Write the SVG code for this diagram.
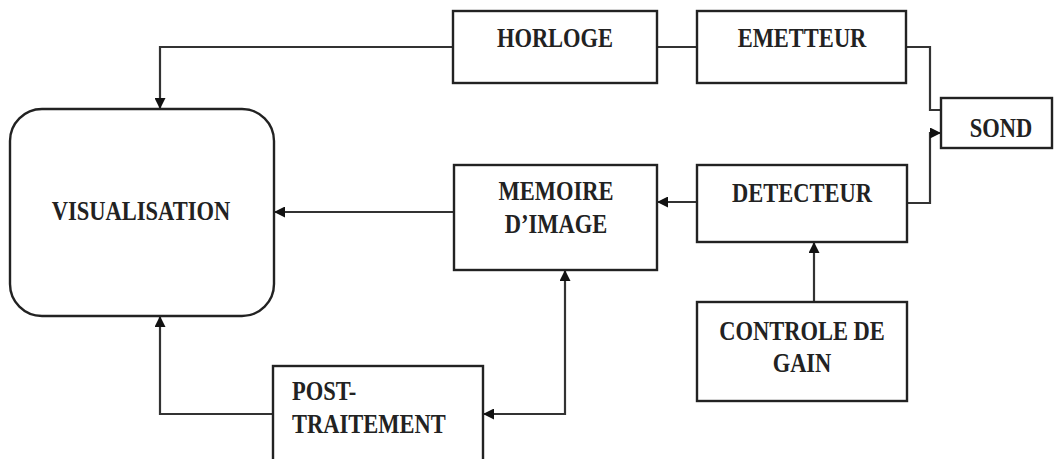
<svg xmlns="http://www.w3.org/2000/svg" width="1054" height="459" viewBox="0 0 1054 459">
<defs>
<marker id="ah" viewBox="0 0 10 10" refX="10" refY="5" markerWidth="11" markerHeight="11" markerUnits="userSpaceOnUse" orient="auto-start-reverse">
<path d="M0,0 L10,5 L0,10 z" fill="#111"/>
</marker>
<style>
.box{fill:#fff;stroke:#222;stroke-width:2.4}
.t{font-family:"Liberation Serif","Times New Roman",serif;font-weight:bold;font-size:22.5px;fill:#222;text-anchor:middle}
.s{text-anchor:start}
.c{fill:none;stroke:#333;stroke-width:2.2}
</style>
</defs>
<rect width="1054" height="459" fill="#fff"/>
<g id="connectors">
<path class="c" d="M453,47 H160 V109" marker-end="url(#ah)"/>
<path class="c" d="M657,47 H697" stroke="#888"/>
<path class="c" d="M906,47 H930 V110 H941"/>
<path class="c" d="M906,203 H930 V133 H941" marker-end="url(#ah)"/>
<path class="c" d="M697,202 H657" marker-end="url(#ah)"/>
<path class="c" d="M454,212 H274" marker-end="url(#ah)"/>
<path class="c" d="M814,302 V242" marker-end="url(#ah)"/>
<path class="c" d="M565,270 V414 H483" marker-start="url(#ah)" marker-end="url(#ah)"/>
<path class="c" d="M273,414 H160 V316" marker-end="url(#ah)"/>
</g>
<g id="horloge"><rect class="box" x="453" y="11" width="204" height="72"/><text class="t" transform="translate(555,47) scale(1,1.2)">HORLOGE</text></g>
<g id="emetteur"><rect class="box" x="697" y="11" width="209" height="72"/><text class="t" transform="translate(802,47) scale(1,1.2)">EMETTEUR</text></g>
<g id="sond"><rect class="box" x="941" y="98" width="111" height="50"/><text class="t" transform="translate(1001,137) scale(1,1.2)">SOND</text></g>
<g id="visualisation"><rect class="box" x="10" y="109" width="264" height="207" rx="32" ry="32"/><text class="t" transform="translate(141,220) scale(1,1.2)">VISUALISATION</text></g>
<g id="memoire"><rect class="box" x="454" y="165" width="203" height="105"/><text class="t" transform="translate(556,200) scale(1,1.2)">MEMOIRE</text><text class="t" transform="translate(556,233) scale(1,1.2)">D’IMAGE</text></g>
<g id="detecteur"><rect class="box" x="697" y="165" width="210" height="77"/><text class="t" transform="translate(802,202) scale(1,1.2)">DETECTEUR</text></g>
<g id="controle"><rect class="box" x="697" y="302" width="210" height="99"/><text class="t" transform="translate(802,340) scale(1,1.2)">CONTROLE DE</text><text class="t" transform="translate(802,372) scale(1,1.2)">GAIN</text></g>
<g id="posttraitement"><rect class="box" x="273" y="366" width="210" height="100"/><text class="t s" transform="translate(292,400) scale(1,1.2)">POST-</text><text class="t s" transform="translate(292,433) scale(1,1.2)">TRAITEMENT</text></g>
</svg>
